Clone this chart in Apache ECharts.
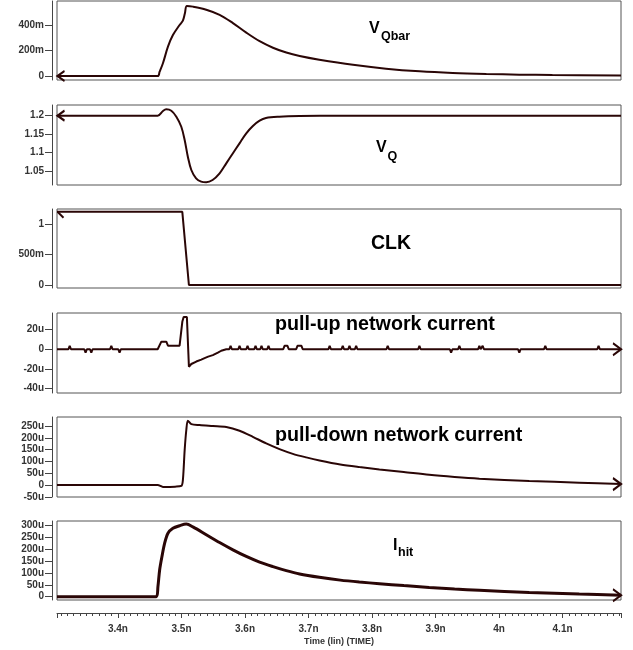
<!DOCTYPE html>
<html>
<head>
<meta charset="utf-8">
<title>waveforms</title>
<script src="https://cdn.jsdelivr.net/npm/echarts@6/dist/echarts.min.js"></script>
<style>
  html, body { margin: 0; padding: 0; background: #fff; }
  #chart { width: 633px; height: 650px; }
</style>
</head>
<body>
<div id="chart"></div>
<script>
  // time axis, ns
  var timeMin = 3.304
  var timeMax = 4.192
  var timeTicks = [3.4, 3.5, 3.6, 3.7, 3.8, 3.9, 4, 4.1]
  var timeLabels = ['3.4n', '3.5n', '3.6n', '3.7n', '3.8n', '3.9n', '4n', '4.1n']

  // V(Qbar), volts
  var vQbar = [[3.304, 0], [3.4625, 0], [3.4656, 0.034], [3.4708, 0.100], [3.4787, 0.230], [3.4865, 0.321],
    [3.497, 0.400], [3.5022, 0.434], [3.5054, 0.492], [3.5085, 0.549], [3.518, 0.544], [3.539, 0.520],
    [3.56, 0.480], [3.581, 0.415], [3.602, 0.340], [3.623, 0.273], [3.644, 0.222], [3.665, 0.184],
    [3.686, 0.157], [3.717, 0.128], [3.77, 0.088], [3.822, 0.058], [3.875, 0.037], [3.927, 0.024],
    [3.98, 0.016], [4.032, 0.011], [4.084, 0.008], [4.192, 0.005]]
  var ticksQbar = [0, 0.2, 0.4]
  var labelsQbar = ['0', '200m', '400m']

  // V(Q), volts
  var vQ = [[3.304, 1.2], [3.4625, 1.2], [3.4708, 1.2127], [3.476, 1.2172], [3.484, 1.2135], [3.4919, 1.1973],
    [3.4997, 1.170], [3.505, 1.134], [3.510, 1.0888], [3.5155, 1.0527], [3.523, 1.030], [3.531, 1.021],
    [3.539, 1.0193], [3.549, 1.0256], [3.560, 1.0437], [3.5705, 1.0708], [3.581, 1.098], [3.5914, 1.125],
    [3.602, 1.1521], [3.6124, 1.172], [3.623, 1.1864], [3.633, 1.1937], [3.654, 1.1973], [3.686, 1.1991],
    [3.75, 1.2], [4.192, 1.2]]
  var ticksQ = [1.05, 1.1, 1.15, 1.2]
  var labelsQ = ['1.05', '1.1', '1.15', '1.2']

  // CLK, volts
  var clk = [[3.304, 1.2], [3.5013, 1.2], [3.5117, 0], [4.192, 0]]
  var ticksClk = [0, 0.5, 1]
  var labelsClk = ['0', '500m', '1']

  // pull-up network current, uA
  var pullUp = [[3.304, 0], [3.322, 0], [3.324, 3.5], [3.326, 0],
    [3.347, 0], [3.349, -3.5], [3.351, 0], [3.356, 0], [3.358, -3.5], [3.360, 0],
    [3.3875, 0], [3.3895, 3.5], [3.3915, 0], [3.4005, 0], [3.4025, -3.5], [3.4045, 0],
    [3.4625, 0], [3.4683, 7.8], [3.4761, 7.8], [3.4787, 3.7], [3.497, 3.7], [3.4997, 1.7],
    [3.5013, 28], [3.5034, 33], [3.5085, 33], [3.5117, -17.8], [3.5155, -15], [3.5233, -12.5],
    [3.5312, -10.5], [3.5364, -9], [3.542, -7.5], [3.5494, -6], [3.5573, -3.5], [3.5626, -1.5], [3.5705, 0],
    [3.5753, 0], [3.5773, 3.5], [3.5793, 0], [3.5894, 0], [3.5914, 3.5], [3.5934, 0],
    [3.602, 0], [3.604, 3.5], [3.606, 0], [3.6146, 0], [3.6166, 3.5], [3.6186, 0],
    [3.624, 0], [3.626, 3.5], [3.628, 0], [3.635, 0], [3.637, 3.5], [3.639, 0],
    [3.6602, 0], [3.6622, 3.5], [3.6669, 3.5], [3.6689, 0], [3.6806, 0], [3.6826, 3.5], [3.6889, 3.5], [3.6909, 0],
    [3.7313, 0], [3.7333, 3.5], [3.7353, 0], [3.7519, 0], [3.7539, 3.5], [3.7559, 0],
    [3.7625, 0], [3.7645, 3.5], [3.7665, 0], [3.773, 0], [3.775, 3.5], [3.777, 0],
    [3.8227, 0], [3.8247, 3.5], [3.8267, 0], [3.8726, 0], [3.8746, 3.5], [3.8766, 0],
    [3.9225, 0], [3.9245, -3.5], [3.9265, 0], [3.9355, 0], [3.9375, 3.5], [3.9395, 0],
    [3.967, 0], [3.969, 3.5], [3.971, 0], [3.9722, 0], [3.9742, 3.5], [3.9762, 0],
    [4.0299, 0], [4.0319, -3.5], [4.0339, 0], [4.0708, 0], [4.0728, 3.5], [4.0748, 0],
    [4.1547, 0], [4.1567, 3.5], [4.1587, 0], [4.192, 0]]
  var ticksUp = [-40, -20, 0, 20]
  var labelsUp = ['-40u', '-20u', '0', '20u']

  // pull-down network current, uA
  var pullDown = [[3.304, 0], [3.4625, 0], [3.4708, -8], [3.49, -7], [3.4997, -4], [3.5022, 21],
    [3.505, 148], [3.5076, 233], [3.5101, 272], [3.5155, 258], [3.5285, 254], [3.5494, 250],
    [3.5705, 246], [3.5914, 230], [3.6124, 204], [3.6334, 176], [3.6543, 152], [3.6753, 132],
    [3.6964, 117], [3.7173, 104], [3.75, 87], [3.78, 76], [3.8117, 66], [3.85, 55], [3.89, 43],
    [3.93, 34], [3.969, 27], [4.0476, 17], [4.1262, 10], [4.192, 4]]
  var ticksDown = [-50, 0, 50, 100, 150, 200, 250]
  var labelsDown = ['-50u', '0', '50u', '100u', '150u', '200u', '250u']

  // I(hit), uA
  var iHit = [[3.304, 0], [3.4604, 0], [3.4629, 42], [3.4656, 113], [3.4692, 169], [3.4735, 226],
    [3.4787, 268], [3.4865, 289], [3.497, 300], [3.5076, 307], [3.518, 295], [3.539, 262],
    [3.56, 229], [3.581, 198], [3.602, 170], [3.623, 146], [3.644, 127], [3.665, 110],
    [3.686, 96], [3.717, 82], [3.75, 70], [3.78, 62], [3.8117, 55], [3.85, 47], [3.89, 39],
    [3.93, 32], [3.969, 27], [4.0476, 18], [4.1262, 11], [4.192, 6]]
  var ticksHit = [0, 50, 100, 150, 200, 250, 300]
  var labelsHit = ['0', '50u', '100u', '150u', '200u', '250u', '300u']

  var lineColor = '#2a0606'
  var frameColor = '#555'
  var textColor = '#333'
  var fontFamily = '"Liberation Sans", Arial, sans-serif'

  var arrowLeft = 'path://M8,0 L0,5 L8,10'
  var arrowRight = 'path://M0,0 L8,5 L0,10'
  var arrowDiag = 'path://M0,0 L7,7'

  var panels = [
    {data: vQbar, min: -0.031, max: 0.588, ticks: ticksQbar, labels: labelsQbar, top: 1, height: 79, width: 2, smooth: 0.35,
      mark: {at: 0, symbol: arrowLeft, size: [7, 10], offset: [4, 0]}},
    {data: vQ, min: 1.012, max: 1.229, ticks: ticksQ, labels: labelsQ, top: 105, height: 80, width: 2, smooth: 0.35,
      mark: {at: 0, symbol: arrowLeft, size: [7, 10], offset: [4, 0]}},
    {data: clk, min: -0.049, max: 1.246, ticks: ticksClk, labels: labelsClk, top: 209, height: 79, width: 2, smooth: 0,
      mark: {at: 0, symbol: arrowDiag, size: [6, 6], offset: [3.5, 3]}},
    {data: pullUp, min: -44.6, max: 37, ticks: ticksUp, labels: labelsUp, top: 313, height: 80, width: 2, smooth: 0,
      mark: {at: -1, symbol: arrowRight, size: [8, 12], offset: [-4, 0]}},
    {data: pullDown, min: -50.8, max: 288, ticks: ticksDown, labels: labelsDown, top: 417, height: 80, width: 2, smooth: 0.3,
      mark: {at: -1, symbol: arrowRight, size: [8, 12], offset: [-4, 0]}},
    {data: iHit, min: -14, max: 320, ticks: ticksHit, labels: labelsHit, top: 521, height: 79, width: 3, smooth: 0.3,
      mark: {at: -1, symbol: arrowRight, size: [8, 12], offset: [-4, 0]}}
  ]

  function labelFor(ticks, labels) {
    return function (v) {
      for (var i = 0; i < ticks.length; i++) {
        if (Math.abs(ticks[i] - v) < 1e-9) return labels[i]
      }
      return ''
    }
  }

  var minorTicks = []
  for (var k = 331; k <= 419; k++) {
    if (k % 10 !== 0) minorTicks.push(k / 100)
  }

  var grids = [], xAxes = [], yAxes = [], series = []
  panels.forEach(function (p, i) {
    grids.push({
      left: 57, width: 564, top: p.top, height: p.height,
      show: true, borderColor: frameColor, borderWidth: 1, backgroundColor: '#fff',
      outerBoundsMode: 'none', containLabel: false
    })
    xAxes.push({
      type: 'value', gridIndex: i, min: timeMin, max: timeMax, show: false
    })
    yAxes.push({
      type: 'value', gridIndex: i, min: p.min, max: p.max, offset: 5,
      splitLine: {show: false},
      axisLine: {show: true, lineStyle: {color: '#444', width: 1}},
      axisTick: {show: true, length: 7, customValues: p.ticks, lineStyle: {color: '#444'}},
      axisLabel: {
        customValues: p.ticks, margin: 8, formatter: labelFor(p.ticks, p.labels),
        color: textColor, fontSize: 10, fontWeight: 'bold', fontFamily: fontFamily
      }
    })
    var end = p.mark.at < 0 ? p.data[p.data.length - 1] : p.data[0]
    series.push({
      type: 'line', xAxisIndex: i, yAxisIndex: i, data: p.data,
      showSymbol: false, smooth: p.smooth, clip: true,
      lineStyle: {color: lineColor, width: p.width},
      emphasis: {disabled: true},
      markPoint: {
        silent: true,
        label: {show: false},
        data: [{
          coord: end, symbol: p.mark.symbol, symbolSize: p.mark.size, symbolOffset: p.mark.offset,
          itemStyle: {color: 'none', borderColor: lineColor, borderWidth: 2}
        }]
      }
    })
  })

  // visible time axis under the last panel
  xAxes.push({
    type: 'value', gridIndex: 5, min: timeMin, max: timeMax, position: 'bottom', offset: 13,
    splitLine: {show: false},
    axisLine: {show: true, onZero: false, lineStyle: {color: '#444', width: 1}},
    axisTick: {show: true, length: 5, customValues: [timeMin].concat(timeTicks, [timeMax]), lineStyle: {color: '#444'}},
    axisLabel: {
      customValues: timeTicks, margin: 11, formatter: labelFor(timeTicks, timeLabels),
      color: textColor, fontSize: 10, fontWeight: 'bold', fontFamily: fontFamily
    },
    name: 'Time (lin) (TIME)', nameLocation: 'middle', nameGap: 24,
    nameTextStyle: {color: textColor, fontSize: 9, fontWeight: 'bold', fontFamily: fontFamily}
  })
  xAxes.push({
    type: 'value', gridIndex: 5, min: timeMin, max: timeMax, position: 'bottom', offset: 13,
    splitLine: {show: false},
    axisLine: {show: false, onZero: false},
    axisTick: {show: true, length: 3, customValues: minorTicks, lineStyle: {color: '#444'}},
    axisLabel: {show: false}
  })

  function txt(x, y, s, size) {
    return {
      type: 'text', x: x, y: y, silent: true,
      style: {text: s, fill: '#000', font: 'bold ' + size + 'px ' + fontFamily, verticalAlign: 'middle'}
    }
  }

  var graphics = [
    txt(369, 29, 'V', 16), txt(381, 36.5, 'Qbar', 12.5),
    txt(376, 148, 'V', 16), txt(387.5, 156.5, 'Q', 12.5),
    txt(371, 244, 'CLK', 19.5),
    txt(275, 325, 'pull-up network current', 19.7),
    txt(275, 436, 'pull-down network current', 19.7),
    txt(393, 546, 'I', 16), txt(398, 553, 'hit', 12.5)
  ]

  var chart = echarts.init(document.getElementById('chart'), null, {renderer: 'canvas'})
  chart.setOption({
    animation: false,
    backgroundColor: '#fff',
    grid: grids,
    xAxis: xAxes,
    yAxis: yAxes,
    series: series,
    graphic: graphics
  })
</script>
</body>
</html>
